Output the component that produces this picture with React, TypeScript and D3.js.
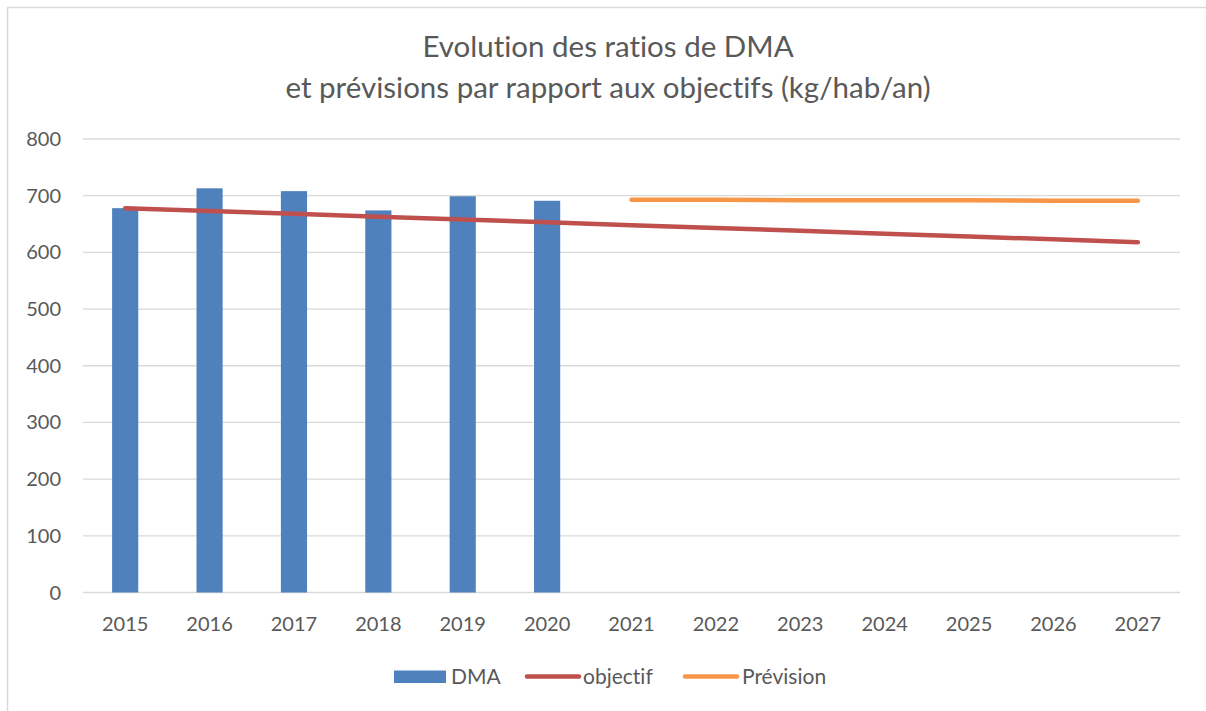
import React from 'react';
import { scaleBand, scaleLinear, line } from 'd3';

const years = ['2015', '2016', '2017', '2018', '2019', '2020', '2021', '2022', '2023', '2024', '2025', '2026', '2027'];
const dmaYears = ['2015', '2016', '2017', '2018', '2019', '2020'];
const dmaValues = [678, 713, 708, 674, 699, 691];
const objectifValues = [678, 673, 668, 663, 658, 653, 648, 643, 638, 633, 628, 623, 618];
const previsionYears = ['2021', '2022', '2023', '2024', '2025', '2026', '2027'];
const previsionValues = [693, 693, 692, 692, 692, 691, 691];
const yTicks = [0, 100, 200, 300, 400, 500, 600, 700, 800];

const width = 1206;
const height = 711;
const font = 'Lato, "Open Sans", sans-serif';
const textColor = '#595959';

export default function App() {
  const x = scaleBand().domain(years).range([83, 1180]).padding(0);
  const y = scaleLinear().domain([0, 800]).range([592.5, 139]);
  const cx = (d: string) => (x(d) as number) + x.bandwidth() / 2;
  const barW = x.bandwidth() * 0.31;

  const objLine = line<number>()
    .x((_, i) => cx(years[i]))
    .y((d) => y(d));
  const prevLine = line<number>()
    .x((_, i) => cx(previsionYears[i]))
    .y((d) => y(d));

  return (
    <svg width={width} height={height} style={{ position: 'absolute', left: 0, top: 0, fontVariantLigatures: 'none' }}>
      <rect x={0} y={0} width={width} height={height} fill="#fff" />
      <rect x={7.5} y={7.5} width={1220} height={720} fill="none" stroke="#D9D9D9" strokeWidth={1.5} />

      <g fontFamily={font} fill={textColor} textAnchor="middle" fontSize={29.5}>
        <text x={608} y={57}>Evolution des ratios de DMA</text>
        <text x={608} y={98}>et prévisions par rapport aux objectifs (kg/hab/an)</text>
      </g>

      {yTicks.map((t) => (
        <g key={t}>
          <line x1={83} x2={1180} y1={y(t)} y2={y(t)} stroke="#D9D9D9" strokeWidth={1.3} />
          <text x={61} y={y(t) + 7} textAnchor="end" fontFamily={font} fontSize={20} fill={textColor}>
            {t}
          </text>
        </g>
      ))}

      {dmaYears.map((d, i) => (
        <rect key={d} x={cx(d) - barW / 2} y={y(dmaValues[i])} width={barW} height={y(0) - y(dmaValues[i])} fill="#4F81BD" />
      ))}

      <path d={objLine(objectifValues) || ''} fill="none" stroke="#C0504D" strokeWidth={4.5} strokeLinecap="round" />
      <path d={prevLine(previsionValues) || ''} fill="none" stroke="#F79646" strokeWidth={4.5} strokeLinecap="round" />

      {years.map((d) => (
        <text key={d} x={cx(d)} y={631} textAnchor="middle" fontFamily={font} fontSize={20} fill={textColor}>
          {d}
        </text>
      ))}

      <g fontFamily={font} fontSize={21} fill={textColor}>
        <rect x={394} y={670.5} width={52} height={12.5} fill="#4F81BD" />
        <text x={451} y={684}>DMA</text>
        <line x1={527} x2={579} y1={676.5} y2={676.5} stroke="#C0504D" strokeWidth={4.5} strokeLinecap="round" />
        <text x={583} y={684}>objectif</text>
        <line x1={685} x2={737} y1={676.5} y2={676.5} stroke="#F79646" strokeWidth={4.5} strokeLinecap="round" />
        <text x={742} y={684}>Prévision</text>
      </g>
    </svg>
  );
}
